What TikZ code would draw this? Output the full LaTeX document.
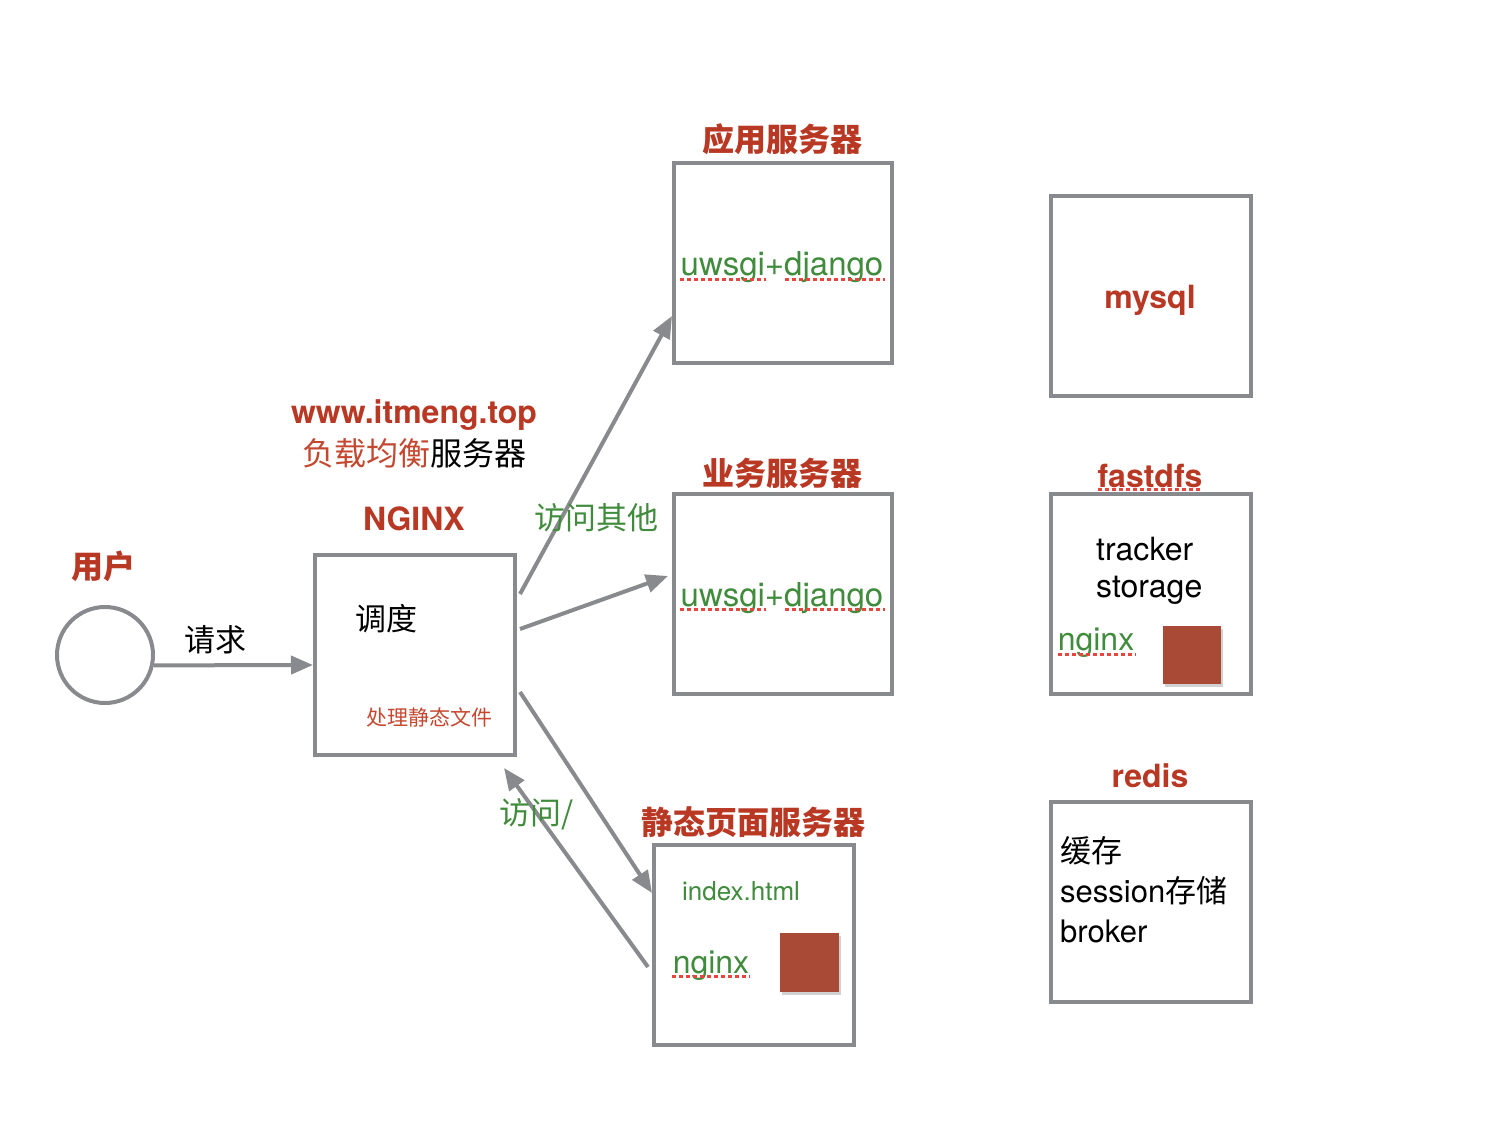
\documentclass[tikz,border=0pt]{standalone}
\usepackage{fontspec}
\setmainfont{TeX Gyre Heros}
\newfontfamily\cjk{Noto Sans CJK SC}
\usetikzlibrary{arrows.meta,shadows}
\definecolor{tred}{RGB}{185,56,36}
\definecolor{lred}{RGB}{196,72,48}
\definecolor{tgreen}{RGB}{64,140,60}
\definecolor{tgray}{RGB}{137,138,142}
\definecolor{sqred}{RGB}{168,74,54}
\definecolor{spell}{RGB}{232,70,60}
\begin{document}
\begin{tikzpicture}[x=1pt,y=-1pt,
  box/.style={draw=tgray,line width=4pt,minimum height=200pt,minimum width=200pt,inner sep=0pt},
  cjktitle/.style={text=tred,inner sep=0pt,font=\fontsize{32}{36}\selectfont\cjk\bfseries},
  lattitle/.style={text=tred,inner sep=0pt,font=\fontsize{32}{36}\selectfont\bfseries},
  cjktext/.style={inner sep=0pt,font=\fontsize{31}{36}\selectfont\cjk},
  gtext/.style={text=tgreen,inner sep=0pt,font=\fontsize{33}{36}\selectfont},
  conn/.style={draw=tgray,line width=4pt,-{Triangle[length=22pt,width=18pt]}},
  spellmark/.style={draw=spell,line width=3pt,dash pattern=on 4pt off 3pt},
  square/.style={fill=sqred,minimum size=59pt,inner sep=0pt,drop shadow={opacity=0.35,shadow xshift=2pt,shadow yshift=-3pt}}
]
\useasboundingbox (0,0) rectangle (1496,1134);
\fill[white] (0,0) rectangle (1496,1134);

% user
\node[draw=tgray,line width=4pt,circle,minimum size=96pt,inner sep=0pt] (user) at (105,655) {};
\node[cjktitle] (userlbl) at (103,566) {用户};

% nginx
\node[box] (nginx) at (415,655) {};
\node[lattitle] (nginxlbl) at (414,519) {NGINX};
\node[lattitle] (url) at (414,415) {www.itmeng.top};
\node[cjktext,font=\fontsize{32}{36}\selectfont\cjk] (lb) at (414,453) {\textcolor{lred}{负载均衡}服务器};
\node[cjktext] (dispatch) at (386,619) {调度};
\node[cjktext,text=lred,font=\fontsize{21}{24}\selectfont\cjk] (static) at (429,717) {处理静态文件};

% app server
\node[box,minimum width=218pt] (app) at (783,263) {};
\node[cjktitle] (applbl) at (782,139) {应用服务器};
\node[gtext] (apptxt) at (782,267) {uwsgi+django};

% business server
\node[box,minimum width=218pt] (biz) at (783,594) {};
\node[cjktitle] (bizlbl) at (782,473) {业务服务器};
\node[gtext] (biztxt) at (782,598) {uwsgi+django};

% static server
\node[box] (stat) at (754,945) {};
\node[cjktitle] (statlbl) at (753,822) {静态页面服务器};
\node[gtext,font=\fontsize{26}{28}\selectfont] (index) at (741,891) {index.html};
\node[gtext,font=\fontsize{32}{36}\selectfont] (statng) at (711,966) {nginx};
\node[square] (sq1) at (809.5,962) {};

% mysql
\node[box] (mysql) at (1151,296) {};
\node[lattitle] (mysqllbl) at (1150,300) {mysql};

% fastdfs
\node[box] (fdfs) at (1151,594) {};
\node[lattitle] (fdfslbl) at (1150,476) {fastdfs};
\node[inner sep=0pt,align=left,anchor=west,font=\fontsize{32}{37}\selectfont] (ts) at (1096,571) {tracker\\storage};
\node[gtext,font=\fontsize{32}{36}\selectfont] (fdfsng) at (1096,643) {nginx};
\node[square,minimum size=58pt] (sq2) at (1192,655) {};

% redis
\node[box] (redis) at (1151,902) {};
\node[lattitle] (redislbl) at (1150,776) {redis};
\node[inner sep=0pt,align=left,anchor=west,font=\fontsize{31}{40}\selectfont] (redistxt) at (1060,890) {{\cjk 缓存}\\session{\cjk 存储}\\broker};

% spell-check marks
\draw[spellmark] (680,279) -- (766,279);
\draw[spellmark] (785,279) -- (885,279);
\draw[spellmark] (680,609) -- (766,609);
\draw[spellmark] (785,609) -- (885,609);
\draw[spellmark] (672,976) -- (750,976);
\draw[spellmark] (1098,489) -- (1202,489);
\draw[spellmark] (1058,654) -- (1136,654);

% connectors
\draw[conn] (user.-12) -- node[cjktext,above=9pt,pos=0.39] (req) {请求} ([yshift=-10pt]nginx.west);
\draw[conn] ([xshift=3pt,yshift=61pt]nginx.east) -- ([yshift=-53pt]app.west);
\draw[conn] ([xshift=3pt,yshift=26pt]nginx.east) -- ([xshift=-4pt,yshift=18pt]biz.west);
\draw[conn] ([xshift=3pt,yshift=-37pt]nginx.east) -- ([yshift=52pt]stat.west);
\draw[conn] ([xshift=-4pt,yshift=-22pt]stat.west) -- ([xshift=-13pt,yshift=-11pt]nginx.south east);

\node[cjktext,text=tgreen] (other) at (596,518) {访问其他};
\node[cjktext,text=tgreen] (root) at (537,814) {访问/};
\end{tikzpicture}
\end{document}
